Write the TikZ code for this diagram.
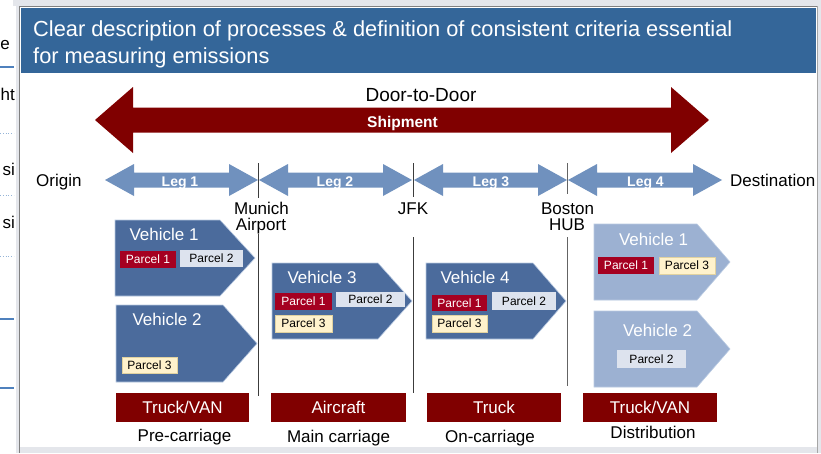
\documentclass[tikz,border=0pt]{standalone}
\usepackage{fontspec}
\setmainfont{Liberation Sans}
\definecolor{hdr}{RGB}{52,102,153}
\definecolor{ship}{RGB}{128,0,0}
\definecolor{legc}{RGB}{112,145,190}
\definecolor{vdark}{RGB}{75,107,156}
\definecolor{vlight}{RGB}{156,177,210}
\definecolor{vedge}{RGB}{185,202,226}
\definecolor{pred}{RGB}{165,0,33}
\definecolor{pgray}{RGB}{221,227,238}
\definecolor{pcream}{RGB}{255,242,204}
\definecolor{pcreamedge}{RGB}{225,210,160}
\definecolor{framec}{RGB}{128,128,128}
\definecolor{bandc}{RGB}{228,230,235}
\definecolor{sideblue}{RGB}{79,129,189}
\definecolor{divdark}{RGB}{60,60,60}
\definecolor{divgray}{RGB}{100,100,100}
\newcommand\myfs[1]{\fontsize{#1}{#1}\selectfont}
\newcommand\dblarr[7]{% color, x1, x2, y, head length, head half, shaft half
  \fill[#1] (#2,#4) -- ({#2+#5},{#4-#6}) -- ({#2+#5},{#4-#7}) -- ({#3-#5},{#4-#7}) -- ({#3-#5},{#4-#6})
   -- (#3,#4) -- ({#3-#5},{#4+#6}) -- ({#3-#5},{#4+#7}) -- ({#2+#5},{#4+#7}) -- ({#2+#5},{#4+#6}) -- cycle;}
\newcommand\vehshape[6]{% color, x1, xbody, xtip, ytop, ybot
  \filldraw[fill=#1, draw=vedge, line width=0.6pt] (#2,#5) -- (#3,#5) -- (#4,{(#5+#6)/2}) -- (#3,#6) -- (#2,#6) -- cycle;}
\begin{document}
\begin{tikzpicture}[x=1pt,y=-1pt,
  lbl/.style={inner sep=0pt, font=\myfs{17}, text=black},
  leglbl/.style={inner sep=0pt, font=\myfs{14}\bfseries, text=white, anchor=base},
  vlbl/.style={inner sep=0pt, font=\myfs{17}, text=white},
  pbox/.style={inner sep=0pt, font=\myfs{12}, minimum height=17pt},
  pr/.style={pbox, fill=pred, text=white},
  pg/.style={pbox, fill=pgray, text=black},
  pc/.style={pbox, fill=pcream, draw=pcreamedge, line width=0.5pt, text=black},
  mode/.style={fill=ship, text=white, font=\myfs{17}, minimum width=133pt, minimum height=29pt, inner sep=0pt},
  stage/.style={inner sep=0pt, font=\myfs{17}, anchor=base},
  divl/.style={draw=divdark, line width=0.9pt},
  frag/.style={inner sep=0pt, font=\myfs{17}, anchor=base east}
]
\useasboundingbox (0,0) rectangle (821,453);
\fill[white] (0,0) rectangle (821,453);

% left fragments of neighbouring slide
\node[frag] (f1) at (10,49) {e};
\node[frag] (f2) at (15,100) {ht};
\node[frag] (f3) at (15,175) {si};
\node[frag] (f4) at (15,228) {si};
\draw[sideblue, line width=1.2pt] (0,67) -- (14,67);
\draw[sideblue!60, line width=0.8pt, dotted] (0,133) -- (14,133);
\draw[sideblue!60, line width=0.8pt, dotted] (0,195) -- (14,195);
\draw[sideblue!60, line width=0.8pt, dotted] (0,256) -- (14,256);
\draw[sideblue, line width=1.2pt] (0,319) -- (14,319);
\draw[sideblue, line width=1.2pt] (0,388) -- (14,388);

% frame bands
\fill[bandc] (15.5,0) rectangle (18.5,453);
\fill[bandc] (13,0) rectangle (821,5.5);
\fill[bandc] (18.5,447) rectangle (821,453);
\fill[bandc] (817,0) rectangle (821,453);
\draw[framec, line width=1.6pt] (19.5,6) -- (19.5,453);
\draw[framec, line width=1.2pt] (19.5,6.2) -- (817,6.2);
\draw[framec!70, line width=0.8pt] (817,6) -- (817,453);

% header
\fill[hdr] (20.5,7.5) rectangle (816,72.5);
\node[inner sep=0pt, anchor=base west, text=white, font=\myfs{21.8}] (t1) at (33,36) {Clear description of processes \& definition of consistent criteria essential};
\node[inner sep=0pt, anchor=base west, text=white, font=\myfs{21.8}] (t2) at (33,63) {for measuring emissions};

% shipment arrow
\dblarr{ship}{95}{709}{120}{38}{33}{12.5}
\node[inner sep=0pt, anchor=base, font=\myfs{19}] (d2d) at (421,101) {Door-to-Door};
\node[inner sep=0pt, anchor=base, font=\myfs{15.5}\bfseries, text=white] (ship) at (402.5,127) {Shipment};

% legs
\dblarr{legc}{105}{258}{180}{29}{16}{7.5}
\dblarr{legc}{259}{412}{180}{29}{16}{7.5}
\dblarr{legc}{414}{567}{180}{29}{16}{7.5}
\dblarr{legc}{568}{722}{180}{29}{16}{7.5}
\node[leglbl] (l1) at (180,186.5) {Leg 1};
\node[leglbl] (l2) at (335,186.5) {Leg 2};
\node[leglbl] (l3) at (491,186.5) {Leg 3};
\node[leglbl] (l4) at (645.5,186.5) {Leg 4};

% dividers
\draw[divl] (258.5,163) -- (258.5,198);
\draw[divl] (258.5,234) -- (258.5,396);
\draw[divl] (413,163) -- (413,197);
\draw[divl] (413,237) -- (413,393);
\draw[divl, draw=divgray] (567.5,163) -- (567.5,194);
\draw[divl, draw=divgray] (567.5,237) -- (567.5,386);

% place labels
\node[lbl, anchor=base west] (orig) at (36,186) {Origin};
\node[lbl, anchor=base west] (dest) at (730,186) {Destination};
\node[lbl, anchor=base] (mun1) at (261.5,214) {Munich};
\node[lbl, anchor=base] (mun2) at (261,230) {Airport};
\node[lbl, anchor=base] (jfk) at (413,214.5) {JFK};
\node[lbl, anchor=base] (bos1) at (567.5,214) {Boston};
\node[lbl, anchor=base] (bos2) at (567,230) {HUB};

% vehicles
\vehshape{vdark}{115}{220}{255}{220}{296}
\vehshape{vdark}{116}{223}{257}{305}{382}
\vehshape{vdark}{272}{378}{412}{263}{339}
\vehshape{vdark}{426}{533}{566}{263}{339}
\vehshape{vlight}{594}{697}{730}{224}{300}
\vehshape{vlight}{594}{697}{730}{311}{387}

\node[vlbl] (v1) at (164,234) {Vehicle 1};
\node[vlbl] (v2) at (167,319) {Vehicle 2};
\node[vlbl] (v3) at (322,277.5) {Vehicle 3};
\node[vlbl] (v4) at (475,277) {Vehicle 4};
\node[vlbl] (v1d) at (653.5,239.5) {Vehicle 1};
\node[vlbl] (v2d) at (657.5,330) {Vehicle 2};

% parcels
\node[pr, minimum width=56pt] (a1) at (148,259.5) {Parcel 1};
\node[pg, minimum width=63pt] (a2) at (211.5,258.5) {Parcel 2};
\node[pc, minimum width=55pt, minimum height=16pt] (b3) at (149.5,365) {Parcel 3};
\node[pr, minimum width=57pt] (c1) at (303.5,301.5) {Parcel 1};
\node[pg, minimum width=69pt, minimum height=15pt] (c2) at (370.5,299.5) {Parcel 2};
\node[pc, minimum width=57pt] (c3) at (303.5,323.5) {Parcel 3};
\node[pr, minimum width=55pt, minimum height=16pt] (e1) at (459.5,303) {Parcel 1};
\node[pg, minimum width=64pt, minimum height=18pt] (e2) at (524,301) {Parcel 2};
\node[pc, minimum width=55pt] (e3) at (459.5,323.5) {Parcel 3};
\node[pr, minimum width=56pt] (g1) at (626,265.5) {Parcel 1};
\node[pc, minimum width=56pt] (g3) at (687,265.5) {Parcel 3};
\node[pg, minimum width=69pt, minimum height=18pt] (h2) at (651.5,359) {Parcel 2};

% transport modes
\node[mode] (m1) at (182.5,407.5) {Truck/VAN};
\node[mode, minimum width=135pt] (m2) at (338.5,407.5) {Aircraft};
\node[mode, minimum width=134pt] (m3) at (494,407.5) {Truck};
\node[mode, minimum width=134pt] (m4) at (650,407.5) {Truck/VAN};

% stage labels
\node[stage] (s1) at (184.5,441) {Pre-carriage};
\node[stage] (s2) at (338.5,442) {Main carriage};
\node[stage] (s3) at (490,442) {On-carriage};
\node[stage] (s4) at (653,438.5) {Distribution};
\end{tikzpicture}
\end{document}
